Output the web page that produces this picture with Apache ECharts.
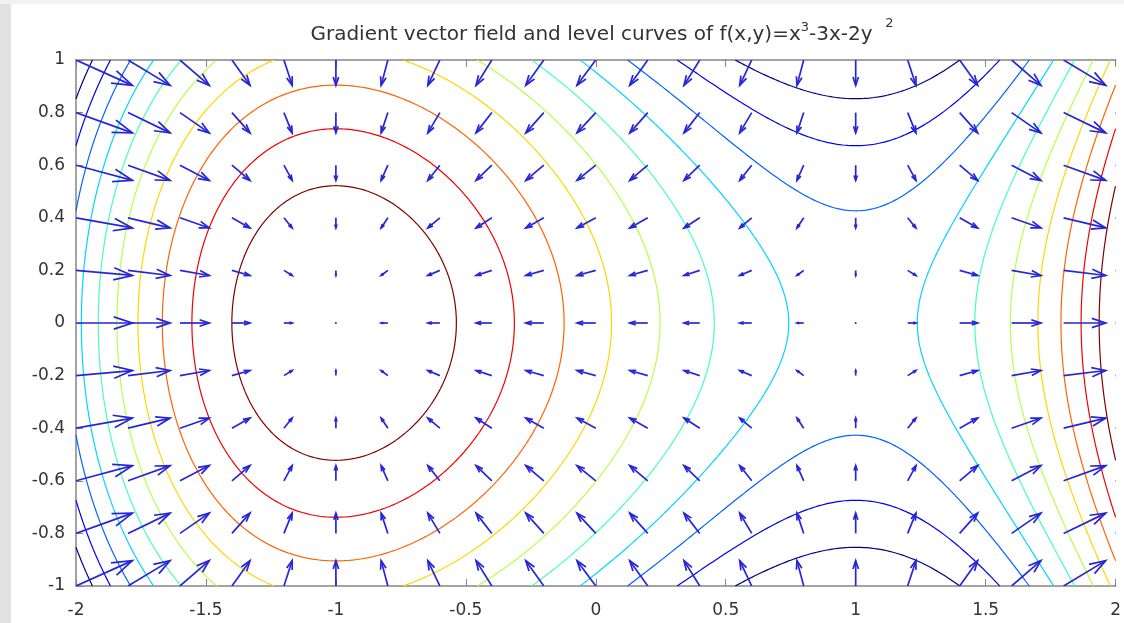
<!DOCTYPE html>
<html>
<head>
<meta charset="utf-8">
<script src="https://cdn.jsdelivr.net/npm/echarts@6/dist/echarts.min.js"></script>
<style>
  html, body { margin: 0; padding: 0; background: #fff; }
  #container { width: 1124px; height: 623px; }
</style>
</head>
<body>
<div id="container"></div>
<script>
// grid of the quiver plot (arrow tails)
var arrowX = [-2, -1.8, -1.6, -1.4, -1.2, -1, -0.8, -0.6, -0.4, -0.2, 0, 0.2, 0.4, 0.6, 0.8, 1, 1.2, 1.4, 1.6, 1.8, 2];
var arrowY = [-1, -0.8, -0.6, -0.4, -0.2, 0, 0.2, 0.4, 0.6, 0.8, 1];
// gradient components: u depends on x only, v on y only
var arrowU = [9, 6.72, 4.68, 2.88, 1.32, 0, -1.08, -1.92, -2.52, -2.88, -3, -2.88, -2.52, -1.92, -1.08, 0, 1.32, 2.88, 4.68, 6.72, 9];
var arrowV = [4, 3.2, 2.4, 1.6, 0.8, 0, -0.8, -1.6, -2.4, -3.2, -4];
// contour levels
var levels = [-3.455, -2.909, -2.364, -1.818, -1.273, -0.727, -0.182, 0.364, 0.909, 1.455];
var xTicks = [-2, -1.5, -1, -0.5, 0, 0.5, 1, 1.5, 2];
var yTicks = [-1, -0.8, -0.6, -0.4, -0.2, 0, 0.2, 0.4, 0.6, 0.8, 1];

var arrowScale = 0.0241;
var arrowColor = '#2626d8';
var axisColor = '#858585';
var textColor = '#333';

// f(x,y)=x^3-3x-2y^2 (from the title)
function f(x, y) {
    return x * x * x - 3 * x - 2 * y * y;
}

function jet(t) {
    function c(v) { return Math.round(255 * Math.max(0, Math.min(1, v))); }
    return 'rgb(' + c(1.5 - Math.abs(4 * t - 3)) + ',' + c(1.5 - Math.abs(4 * t - 2)) + ',' + c(1.5 - Math.abs(4 * t - 1)) + ')';
}

// marching squares, segments chained into polylines
function traceLevel(level) {
    var nx = 400, ny = 200;
    var x0 = xTicks[0], x1 = xTicks[xTicks.length - 1];
    var y0 = yTicks[0], y1 = yTicks[yTicks.length - 1];
    var xs = [], ys = [], z = [];
    for (var i = 0; i <= nx; i++) xs.push(x0 + (x1 - x0) * i / nx);
    for (var j = 0; j <= ny; j++) ys.push(y0 + (y1 - y0) * j / ny);
    for (j = 0; j <= ny; j++) {
        var row = [];
        for (i = 0; i <= nx; i++) row.push(f(xs[i], ys[j]));
        z.push(row);
    }
    var pts = {}, links = {};
    function edge(key, xa, ya, za, xb, yb, zb) {
        if (!pts[key]) {
            var t = (level - za) / (zb - za);
            pts[key] = [xa + t * (xb - xa), ya + t * (yb - ya)];
        }
        return key;
    }
    function link(a, b) {
        (links[a] = links[a] || []).push(b);
        (links[b] = links[b] || []).push(a);
    }
    for (j = 0; j < ny; j++) {
        for (i = 0; i < nx; i++) {
            var z00 = z[j][i], z10 = z[j][i + 1], z01 = z[j + 1][i], z11 = z[j + 1][i + 1];
            var cross = [];
            if ((z00 > level) !== (z10 > level)) cross.push(edge('h' + i + '_' + j, xs[i], ys[j], z00, xs[i + 1], ys[j], z10));
            if ((z10 > level) !== (z11 > level)) cross.push(edge('v' + (i + 1) + '_' + j, xs[i + 1], ys[j], z10, xs[i + 1], ys[j + 1], z11));
            if ((z01 > level) !== (z11 > level)) cross.push(edge('h' + i + '_' + (j + 1), xs[i], ys[j + 1], z01, xs[i + 1], ys[j + 1], z11));
            if ((z00 > level) !== (z01 > level)) cross.push(edge('v' + i + '_' + j, xs[i], ys[j], z00, xs[i], ys[j + 1], z01));
            if (cross.length === 2) link(cross[0], cross[1]);
            else if (cross.length === 4) { link(cross[0], cross[1]); link(cross[2], cross[3]); }
        }
    }
    var visited = {}, lines = [];
    function walk(start) {
        var line = [pts[start]], cur = start;
        visited[start] = true;
        while (true) {
            var next = null;
            for (var k = 0; k < links[cur].length; k++) {
                if (!visited[links[cur][k]]) { next = links[cur][k]; break; }
            }
            if (next === null) {
                if (line.length > 2 && links[cur].indexOf(start) >= 0) line.push(pts[start]);
                break;
            }
            visited[next] = true;
            line.push(pts[next]);
            cur = next;
        }
        return line;
    }
    var keys = Object.keys(links);
    keys.forEach(function (k) { if (links[k].length === 1 && !visited[k]) lines.push(walk(k)); });
    keys.forEach(function (k) { if (!visited[k]) lines.push(walk(k)); });
    var data = [];
    lines.forEach(function (l, n) {
        if (n > 0) data.push([NaN, NaN]);
        l.forEach(function (p) { data.push(p); });
    });
    return data;
}

var arrowData = [];
arrowY.forEach(function (y, j) {
    arrowX.forEach(function (x, i) {
        arrowData.push([x, y, arrowU[i], arrowV[j]]);
    });
});

// quiver-style arrow: shaft plus open head (alpha = beta = 0.33)
function renderArrow(params, api) {
    var x = api.value(0), y = api.value(1), u = api.value(2), v = api.value(3);
    var p0 = api.coord([x, y]);
    var p1 = api.coord([x + u * arrowScale, y + v * arrowScale]);
    var dx = p1[0] - p0[0], dy = p1[1] - p0[1];
    if (Math.sqrt(dx * dx + dy * dy) < 0.5) {
        return { type: 'circle', shape: { cx: p0[0], cy: p0[1], r: 1 }, style: { fill: arrowColor } };
    }
    var a = 0.33, b = 0.33;
    var h1 = [p1[0] - a * (dx + b * dy), p1[1] - a * (dy - b * dx)];
    var h2 = [p1[0] - a * (dx - b * dy), p1[1] - a * (dy + b * dx)];
    var st = { stroke: arrowColor, lineWidth: 1.7, fill: null, lineJoin: 'miter' };
    return {
        type: 'group',
        children: [
            { type: 'line', shape: { x1: p0[0], y1: p0[1], x2: p1[0], y2: p1[1] }, style: st },
            { type: 'polyline', shape: { points: [h1, p1, h2] }, style: st }
        ]
    };
}

var cMin = levels[0], cMax = levels[levels.length - 1];
var series = levels.map(function (lv) {
    return {
        type: 'line',
        data: traceLevel(lv),
        showSymbol: false,
        symbol: 'none',
        connectNulls: false,
        silent: true,
        clip: true,
        lineStyle: { color: jet((lv - cMin) / (cMax - cMin)), width: 1.2 },
        z: 2
    };
});
series.push({
    type: 'custom',
    data: arrowData,
    encode: { x: 0, y: 1 },
    renderItem: renderArrow,
    clip: true,
    silent: true,
    z: 3
});

var dom = document.getElementById('container');
var myChart = echarts.init(dom);
var option = {
    backgroundColor: '#fff',
    animation: false,
    title: {
        text: '{n|Gradient vector field and level curves of f(x,y)=x}{s|3}{n|-3x-2y  }{t|2}',
        left: 602,
        top: 17,
        textAlign: 'center',
        padding: 0,
        textStyle: {
            fontWeight: 'normal',
            rich: {
                n: { fontFamily: 'DejaVu Sans', fontSize: 20, fontWeight: 'normal', color: textColor, lineHeight: 28, verticalAlign: 'bottom' },
                s: { fontFamily: 'DejaVu Sans', fontSize: 13, fontWeight: 'normal', color: textColor, verticalAlign: 'top', padding: [4, 0, 0, 0] },
                t: { fontFamily: 'DejaVu Sans', fontSize: 13, fontWeight: 'normal', color: textColor, verticalAlign: 'top' }
            }
        }
    },
    graphic: [
        { type: 'rect', shape: { x: 0, y: 0, width: 11, height: 623 }, style: { fill: '#e2e2e2' }, z: 0 },
        { type: 'rect', shape: { x: 0, y: 0, width: 1124, height: 4 }, style: { fill: '#f2f2f2' }, z: 0 }
    ],
    grid: { left: 76, top: 60, width: 1050, height: 526, containLabel: false },
    xAxis: [{
        type: 'value', min: xTicks[0], max: xTicks[xTicks.length - 1], interval: 0.5,
        position: 'bottom',
        axisLine: { show: true, onZero: false, lineStyle: { color: axisColor, width: 1.5 } },
        axisTick: { show: true, inside: true, length: 7, lineStyle: { color: axisColor } },
        axisLabel: { fontFamily: 'DejaVu Sans', fontSize: 17, color: textColor, margin: 16 },
        splitLine: { show: false }
    }, {
        type: 'value', min: xTicks[0], max: xTicks[xTicks.length - 1], interval: 0.5,
        position: 'top',
        axisLine: { show: true, onZero: false, lineStyle: { color: axisColor, width: 1.5 } },
        axisTick: { show: true, inside: true, length: 7, lineStyle: { color: axisColor } },
        axisLabel: { show: false },
        splitLine: { show: false }
    }],
    yAxis: [{
        type: 'value', min: yTicks[0], max: yTicks[yTicks.length - 1], interval: 0.2,
        axisLine: { show: true, onZero: false, lineStyle: { color: axisColor, width: 1.5 } },
        axisTick: { show: true, inside: true, length: 7, lineStyle: { color: axisColor } },
        axisLabel: { fontFamily: 'DejaVu Sans', fontSize: 17, color: textColor, margin: 11, padding: [5, 0, 0, 0] },
        splitLine: { show: false }
    }],
    series: series
};

if (option && typeof option === 'object') {
    myChart.setOption(option);
}
</script>
</body>
</html>
